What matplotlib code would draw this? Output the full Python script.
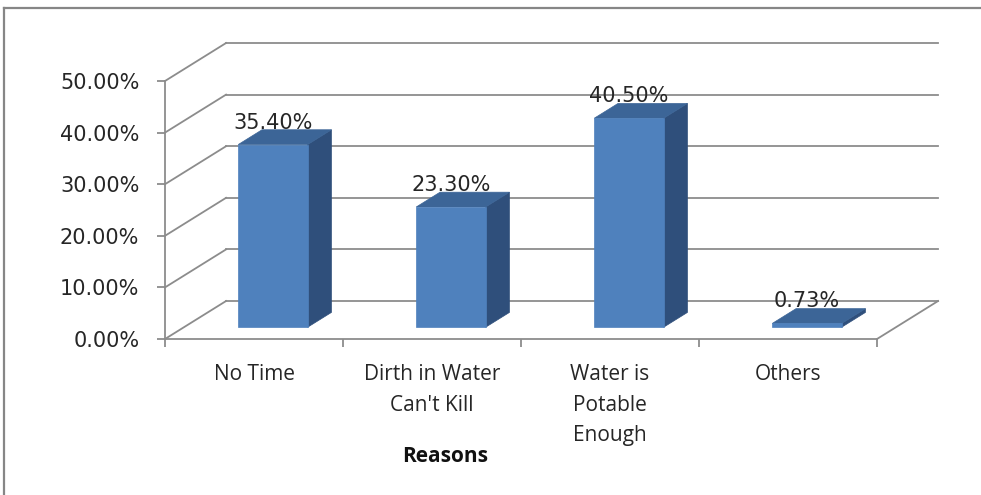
import matplotlib
matplotlib.use("Agg")
import matplotlib.pyplot as plt
from matplotlib.patches import Polygon
from matplotlib.lines import Line2D

# ---- data ----
categories = ["No Time", "Dirth in Water\nCan't Kill", "Water is\nPotable\nEnough", "Others"]
values = [35.40, 23.30, 40.50, 0.73]          # percent
y_ticks = [0, 10, 20, 30, 40, 50]
y_tick_labels = ["0.00%", "10.00%", "20.00%", "30.00%", "40.00%", "50.00%"]
x_title = "Reasons"

# ---- style ----
GRID = "#8c8c8c"
FRONT = "#4f81bd"
TOP = "#3c6597"
SIDE = "#2f4f7b"

# oblique depth: full depth shift in data units (x per category, y per percent)
DEPTH_X = 0.343
DEPTH_Y = 7.36
BAR_F0, BAR_F1 = 0.31, 0.70   # depth extent of the bars
BAR_W = 0.39                  # bar width as a fraction of a category


def proj(x, v, f):
    """Oblique projection of (category x, value v, depth f) into axis data."""
    return (x + f * DEPTH_X, v + f * DEPTH_Y)


fig = plt.figure(figsize=(9.81, 4.95), dpi=100)
W, H = 981, 495
ax = fig.add_axes([165 / W, 156 / H, 712 / W, 258 / H])
n = len(categories)
ax.set_xlim(0, n)
ax.set_ylim(0, 50)
ax.patch.set_visible(False)

# outer chart border (top and left edges)
fig.add_artist(Line2D([4 / W, 1.0], [1 - 8 / H, 1 - 8 / H], color="#868686", lw=1.6,
                      transform=fig.transFigure))
fig.add_artist(Line2D([4 / W, 4 / W], [0, 1 - 8 / H], color="#868686", lw=1.6,
                      transform=fig.transFigure))

# back wall and left wall gridlines
for v in y_ticks:
    bx0, by = proj(0, v, 1)
    bx1, _ = proj(n, v, 1)
    ax.plot([bx0, bx1], [by, by], color=GRID, lw=1.3, clip_on=False, zorder=1)
    fx, fy = proj(0, v, 0)
    ax.plot([fx, bx0], [fy, by], color=GRID, lw=1.3, clip_on=False, zorder=1)

# floor right edge
p0 = proj(n, 0, 0)
p1 = proj(n, 0, 1)
ax.plot([p0[0], p1[0]], [p0[1], p1[1]], color=GRID, lw=1.3, clip_on=False, zorder=1)

# 3-D bars
for i, v in enumerate(values):
    xc = i + 0.5
    x0, x1 = xc - BAR_W / 2, xc + BAR_W / 2
    front = [proj(x0, 0, BAR_F0), proj(x1, 0, BAR_F0), proj(x1, v, BAR_F0), proj(x0, v, BAR_F0)]
    side = [proj(x1, 0, BAR_F0), proj(x1, 0, BAR_F1), proj(x1, v, BAR_F1), proj(x1, v, BAR_F0)]
    top = [proj(x0, v, BAR_F0), proj(x1, v, BAR_F0), proj(x1, v, BAR_F1), proj(x0, v, BAR_F1)]
    for pts, col in ((side, SIDE), (top, TOP), (front, FRONT)):
        ax.add_patch(Polygon(pts, closed=True, facecolor=col, edgecolor=col, lw=0.5,
                             clip_on=False, zorder=3))
    lx, ly = proj(xc, v, BAR_F0)
    ax.annotate(f"{v:.2f}%", (lx, ly), xytext=(0, 11.5), textcoords="offset points",
                ha="center", va="baseline", fontsize=15, color="#262626",
                family="DejaVu Sans", zorder=5, annotation_clip=False)

# axes: front y axis and floor front edge
for side_name in ("top", "right"):
    ax.spines[side_name].set_visible(False)
for side_name in ("left", "bottom"):
    ax.spines[side_name].set_color(GRID)
    ax.spines[side_name].set_linewidth(1.3)
    ax.spines[side_name].set_zorder(2)

ax.set_yticks(y_ticks)
ax.set_yticklabels(y_tick_labels, fontsize=15, family="DejaVu Sans", color="#262626")
ax.tick_params(axis="y", length=5.5, width=1.3, color=GRID, pad=13)

ax.set_xticks(range(n + 1))
ax.set_xticklabels([""] * (n + 1))
ax.tick_params(axis="x", which="major", length=5.5, width=1.3, color=GRID)
ax.set_xticks([i + 0.5 for i in range(n)], minor=True)
ax.set_xticklabels(categories, minor=True, fontsize=15, family="Open Sans",
                   color="#262626", linespacing=1.6)
ax.tick_params(axis="x", which="minor", length=0, pad=18)
for lab in ax.get_xticklabels(minor=True):
    lab.set_verticalalignment("top")

fig.text(445 / W, 1 - 457 / H, x_title, ha="center", va="center", fontsize=15,
         fontweight="bold", family="Open Sans", color="#111111")

fig.savefig("out.png", dpi=100, facecolor="white")
